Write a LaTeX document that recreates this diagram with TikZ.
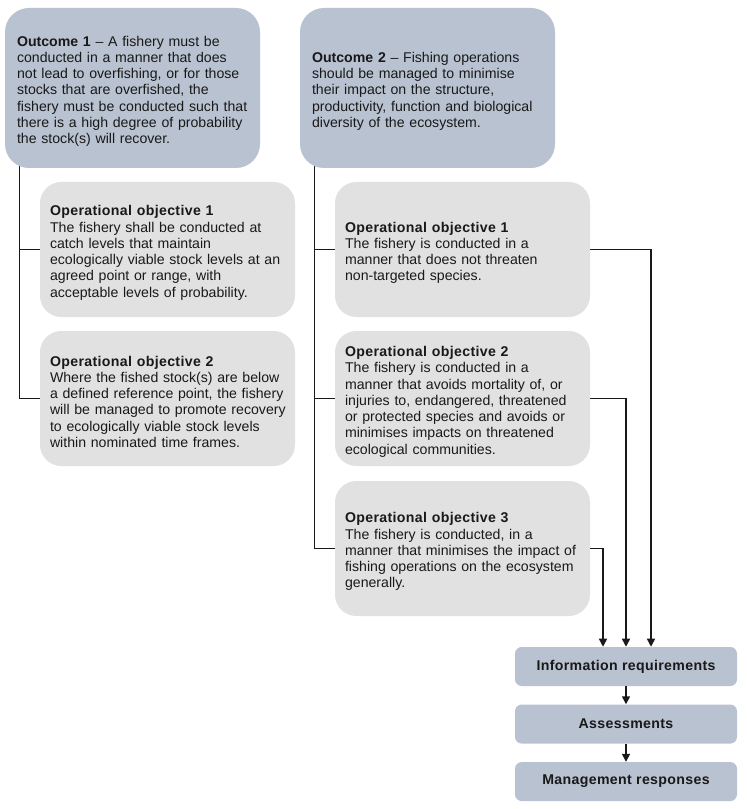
\documentclass[tikz,border=0pt]{standalone}
\usepackage{fontspec}
\setmainfont{Liberation Sans}
\usepackage{xcolor}
\usetikzlibrary{shapes,arrows.meta,positioning,calc,backgrounds}

\definecolor{outblue}{RGB}{185,194,209}
\definecolor{objgrey}{RGB}{225,225,225}
\definecolor{inkgrey}{RGB}{25,25,25}

\newcommand{\objhead}[1]{{\bfseries\addfontfeature{LetterSpace=2.5}#1}}

\begin{document}
\begin{tikzpicture}[
    x=0.75pt, y=-0.75pt,
    every node/.style={font=\fontsize{10.6pt}{12.2pt}\selectfont, text=inkgrey},
    outcome/.style={rectangle, rounded corners=18pt, fill=outblue, minimum width=191.25pt, minimum height=120pt, text width=182pt, inner xsep=4.6pt, align=left, execute at begin node={\leftskip=4.4pt\rule{0pt}{12.6pt}}},
    objective/.style={rectangle, rounded corners=16pt, fill=objgrey, minimum width=191.25pt, minimum height=101.25pt, text width=182pt, inner xsep=4.6pt, align=left, execute at begin node={\leftskip=2.9pt\rule{0pt}{12.6pt}}},
    stage/.style={rectangle, rounded corners=5pt, fill=outblue, minimum width=166.5pt, minimum height=29.25pt, align=center, font=\fontsize{10.6pt}{12.2pt}\selectfont\bfseries\addfontfeature{LetterSpace=2.5}},
    link/.style={line width=1.1pt, draw=inkgrey},
    arrow/.style={link, -{Triangle[length=6pt,width=6pt]}},
]
\useasboundingbox (0,0) rectangle (746,809);

% Outcomes
\node[outcome] (outcome1) at (132.5,88) {\textbf{Outcome 1} -- A fishery must be\\ conducted in a manner that does\\ not lead to overfishing, or for those\\ stocks that are overfished, the\\ fishery must be conducted such that\\ there is a high degree of probability\\ the stock(s) will recover.};
\node[outcome] (outcome2) at (427.5,88) {\textbf{Outcome 2} -- Fishing operations\\ should be managed to minimise\\ their impact on the structure,\\ productivity, function and biological\\ diversity of the ecosystem.};

% Operational objectives under outcome 1
\node[objective] (stockobj1) at (167.5,249.5) {\objhead{Operational objective 1}\\ The fishery shall be conducted at\\ catch levels that maintain\\ ecologically viable stock levels at an\\ agreed point or range, with\\ acceptable levels of probability.};
\node[objective] (stockobj2) at (167.5,398.5) {\objhead{Operational objective 2}\\ Where the fished stock(s) are below\\ a defined reference point, the fishery\\ will be managed to promote recovery\\ to ecologically viable stock levels\\ within nominated time frames.};

% Operational objectives under outcome 2
\node[objective] (ecoobj1) at (462.5,249.5) {\objhead{Operational objective 1}\\ The fishery is conducted in a\\ manner that does not threaten\\ non-targeted species.};
\node[objective] (ecoobj2) at (462.5,398.5) {\objhead{Operational objective 2}\\ The fishery is conducted in a\\ manner that avoids mortality of, or\\ injuries to, endangered, threatened\\ or protected species and avoids or\\ minimises impacts on threatened\\ ecological communities.};
\node[objective] (ecoobj3) at (462.5,548.5) {\objhead{Operational objective 3}\\ The fishery is conducted, in a\\ manner that minimises the impact of\\ fishing operations on the ecosystem\\ generally.};

% Process chain
\node[stage] (inforeq) at (626,666.5) {Information requirements};
\node[stage, below=13.5pt of inforeq] (assess) {Assessments};
\node[stage, below=13.5pt of assess] (manage) {Management responses};

% Tree lines behind the boxes
\begin{scope}[on background layer]
\draw[link] ($(outcome1.south west)+(15,-6)$) |- (stockobj1.west);
\draw[link] ($(outcome1.south west)+(15,-6)$) |- (stockobj2.west);
\draw[link] ($(outcome2.south west)+(15,-6)$) |- (ecoobj1.west);
\draw[link] ($(outcome2.south west)+(15,-6)$) |- (ecoobj2.west);
\draw[link] ($(outcome2.south west)+(15,-6)$) |- (ecoobj3.west);
\end{scope}

% Arrows into the process chain
\draw[arrow] (ecoobj1.east) -| ($(inforeq.north)+(25,0)$);
\draw[arrow] (ecoobj2.east) -| (inforeq.north);
\draw[arrow] (ecoobj3.east) -| ($(inforeq.north)+(-23,0)$);
\draw[arrow] (inforeq) -- (assess);
\draw[arrow] (assess) -- (manage);

\end{tikzpicture}
\end{document}
